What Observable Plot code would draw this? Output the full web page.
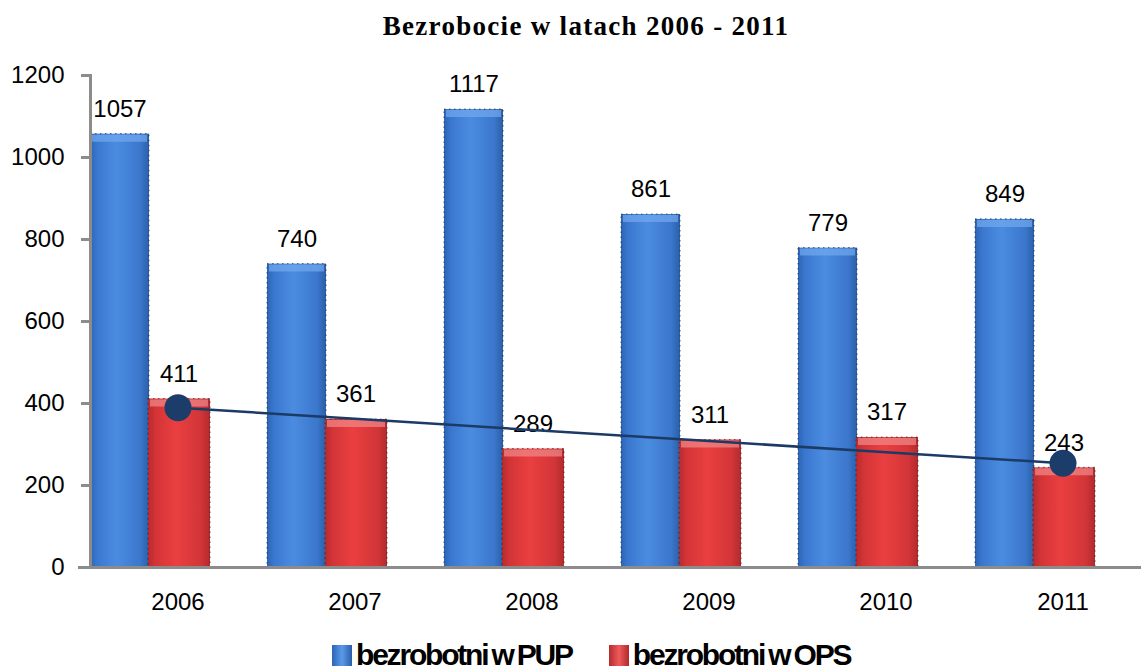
<!DOCTYPE html>
<html><head><meta charset="utf-8">
<script src="https://cdn.jsdelivr.net/npm/d3@7"></script>
<script src="https://cdn.jsdelivr.net/npm/@observablehq/plot@0.6"></script>
<style>
body{margin:0;background:#fff;}
#wrap{position:relative;width:1141px;height:671px;overflow:hidden;}
#title{position:absolute;top:11px;left:0;width:1172px;text-align:center;font:bold 27px "Liberation Serif","Times New Roman",serif;letter-spacing:1.3px;color:#000;}
#chart{position:absolute;top:50px;left:0;}
#legend{position:absolute;top:640px;left:332px;display:flex;align-items:flex-start;font:bold 30px "Liberation Sans",Arial,sans-serif;letter-spacing:-2.2px;word-spacing:-2px;color:#000;line-height:30px;white-space:nowrap;}
.sw{display:inline-block;width:20px;height:21px;margin-right:4px;margin-top:5px;}
.item{display:flex;align-items:flex-start;margin-right:37px;}
</style></head><body>
<div id="wrap">
<div id="title">Bezrobocie w latach 2006 - 2011</div>
<div id="chart"></div>
<div id="legend"></div>
</div>
<script>
const years = ["2006","2007","2008","2009","2010","2011"];
const pup = [1057, 740, 1117, 861, 779, 849];
const ops = [411, 361, 289, 311, 317, 243];
const yTicks = [0, 200, 400, 600, 800, 1000, 1200];
const seriesNames = ["bezrobotni w PUP", "bezrobotni w OPS"];

// linear trend of OPS values
const n = ops.length;
const mx = d3.mean(d3.range(n)), my = d3.mean(ops);
const slope = d3.sum(ops, (v, i) => (i - mx) * (v - my)) / d3.sum(d3.range(n), i => (i - mx) ** 2);
const data = years.map((y, i) => ({year: y, pup: pup[i], ops: ops[i], trend: my + slope * (i - mx)}));
const ends = [data[0], data[n - 1]];

const axisGray = "#8c8c8c";
const plot = Plot.plot({
  width: 1141, height: 575,
  marginLeft: 90, marginRight: 0, marginTop: 25, marginBottom: 58,
  x: {domain: years, range: [89, 1151], padding: 0, label: null, axis: null},
  y: {domain: [0, 1200], label: null, axis: null},
  style: {fontFamily: "'Liberation Sans', Arial, sans-serif", fontSize: "24px", color: "#000", background: "#fff"},
  marks: [
    Plot.barY(data, {x: "year", y: "pup", fill: "url(#gBlue)", insetLeft: 1, insetRight: 117,
      stroke: "#222", strokeDasharray: "1.5,3.5", strokeWidth: 1.2, strokeOpacity: 0.6}),
    Plot.tickY(data, {x: "year", y: "pup", stroke: "#74aaf0", strokeWidth: 7, strokeOpacity: 0.7, dy: 4, insetLeft: 3, insetRight: 119}),
    Plot.barY(data, {x: "year", y: "ops", fill: "url(#gRed)", insetLeft: 59, insetRight: 56,
      stroke: "#222", strokeDasharray: "1.5,3.5", strokeWidth: 1.2, strokeOpacity: 0.6}),
    Plot.tickY(data, {x: "year", y: "ops", stroke: "#f28a8a", strokeWidth: 7, strokeOpacity: 0.7, dy: 4, insetLeft: 61, insetRight: 58}),
    Plot.ruleY([0], {stroke: axisGray, strokeWidth: 3, insetLeft: -12}),
    Plot.frame({anchor: "left", stroke: axisGray, strokeWidth: 3}),
    Plot.axisY({ticks: yTicks, tickSize: 9, text: null, stroke: axisGray, strokeWidth: 3, label: null}),
    Plot.axisY({ticks: yTicks, tickFormat: d => String(d), tickSize: 0, tickPadding: 26, label: null, fill: "#000", fontSize: 24}),
    Plot.axisX({tickSize: 0, tickPadding: 25, label: null, fill: "#000", fontSize: 24}),
    Plot.text(data, {x: "year", y: "pup", text: d => String(d.pup), dx: -58, dy: -25, fill: "#000", fontSize: 24}),
    Plot.text(data, {x: "year", y: "ops", text: d => String(d.ops), dx: 1, dy: -25, fill: "#000", fontSize: 24}),
    Plot.line(data, {x: "year", y: "trend", stroke: "#1b3a66", strokeWidth: 2.5}),
    Plot.dot(ends, {x: "year", y: "trend", r: 13.5, fill: "#1c3c6a", stroke: "none"})
  ]
});

// gradients for 3D-like bars
const defs = d3.select(plot).insert("defs", ":first-child");
function grad(id, stops) {
  const g = defs.append("linearGradient").attr("id", id).attr("x1", "0").attr("x2", "1").attr("y1", "0").attr("y2", "0");
  stops.forEach(([o, c]) => g.append("stop").attr("offset", o).attr("stop-color", c));
}
grad("gBlue", [[0, "#2c64b5"], [0.12, "#3a78cf"], [0.45, "#4b8ce0"], [0.85, "#3b77cc"], [1, "#2b5fa9"]]);
grad("gRed", [[0, "#b52b2e"], [0.12, "#d33437"], [0.45, "#ea3f40"], [0.85, "#d23538"], [1, "#b12a2d"]]);
document.getElementById("chart").appendChild(plot);

// legend
const legend = document.getElementById("legend");
const swatches = ["linear-gradient(90deg,#2c64b5,#5a9ae8,#2b5fa9)", "linear-gradient(90deg,#b52b2e,#ee5a5a,#b12a2d)"];
seriesNames.forEach((name, i) => {
  const it = document.createElement("div");
  it.className = "item";
  const sw = document.createElement("span");
  sw.className = "sw";
  sw.style.background = swatches[i];
  it.appendChild(sw);
  it.appendChild(document.createTextNode(name));
  legend.appendChild(it);
});
</script>
</body></html>
